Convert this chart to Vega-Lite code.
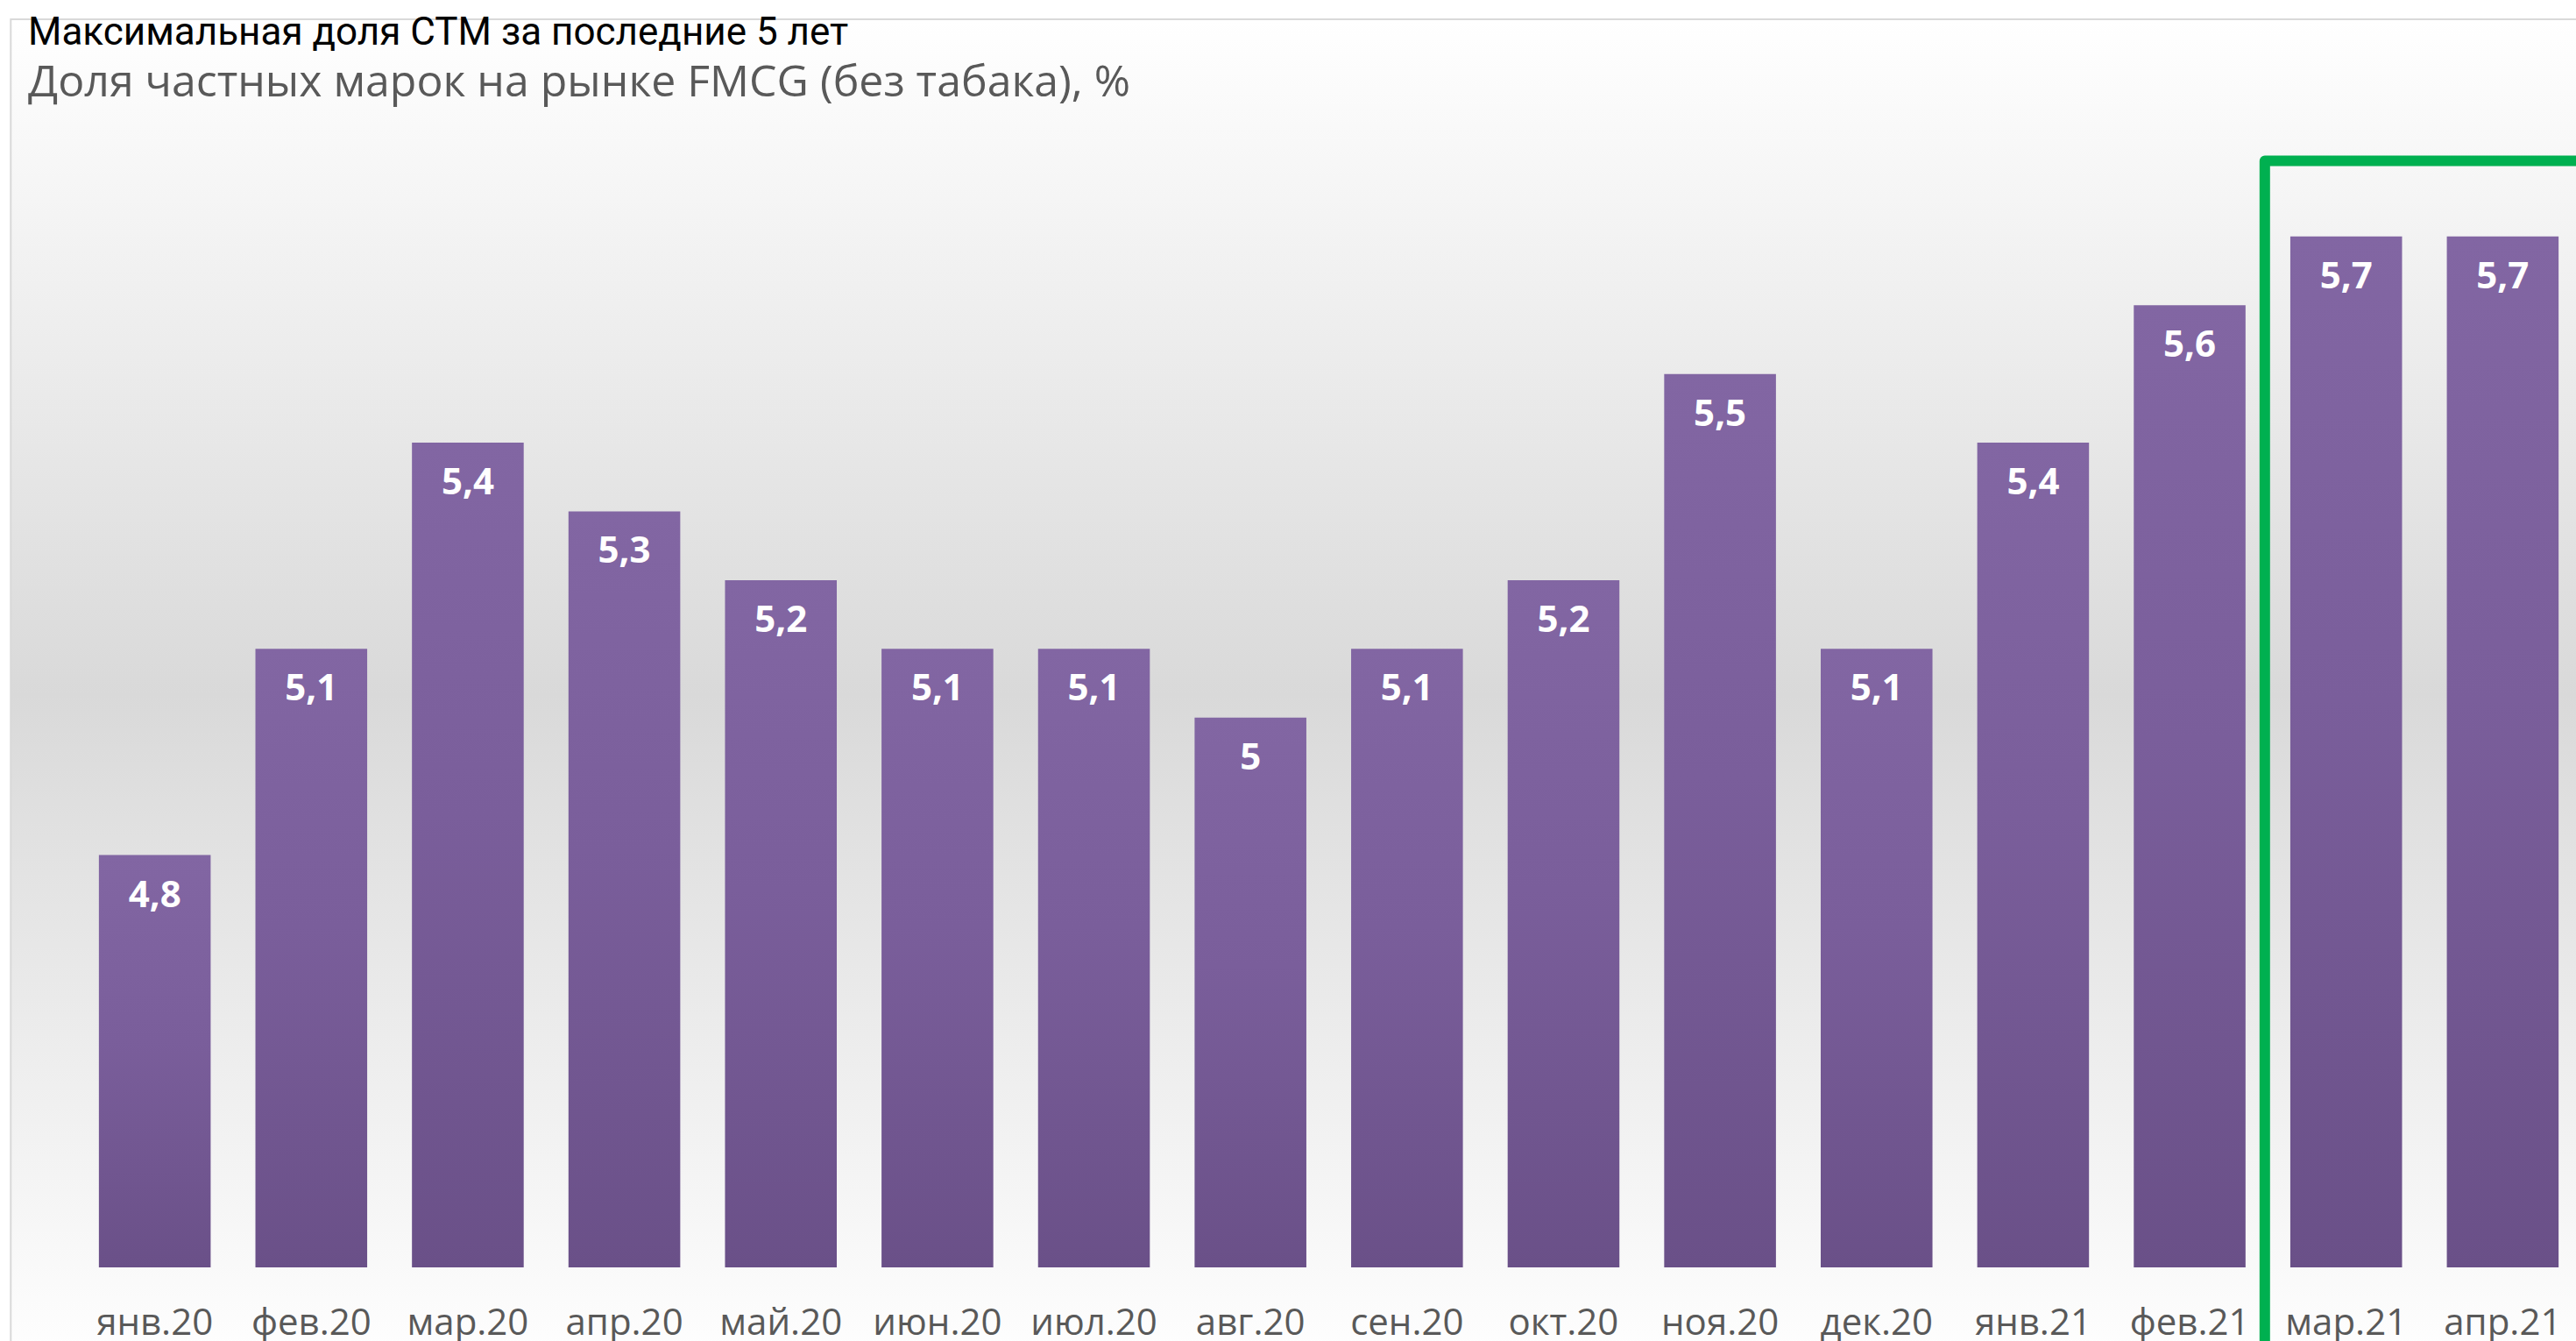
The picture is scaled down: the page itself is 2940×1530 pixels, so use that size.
{
  "$schema": "https://vega.github.io/schema/vega-lite/v6.json",
  "width": 2843,
  "height": 1333,
  "autosize": {"type": "none"},
  "padding": {"left": 95, "top": 113, "right": 2, "bottom": 84},
  "background": "#ffffff",
  "config": {
    "view": {"stroke": null},
    "locale": {"number": {"decimal": ",", "thousands": " ", "grouping": [3], "currency": ["", " ₽"]}},
    "axis": {"zindex": 2}
  },
  "title": {
    "text": "Максимальная доля СТМ за последние 5 лет",
    "subtitle": "Доля частных марок на рынке FMCG (без табака), %",
    "anchor": "start",
    "frame": "group",
    "font": "Roboto",
    "fontSize": 44,
    "fontWeight": "normal",
    "color": "#000000",
    "subtitleFont": "Open Sans",
    "subtitleFontSize": 50,
    "subtitleColor": "#595959",
    "subtitlePadding": 10,
    "offset": 2,
    "dx": -63,
    "dy": 101,
    "zindex": 2
  },
  "datasets": {
    "months": [
      {"month": "янв.20", "value": 4.8},
      {"month": "фев.20", "value": 5.1},
      {"month": "мар.20", "value": 5.4},
      {"month": "апр.20", "value": 5.3},
      {"month": "май.20", "value": 5.2},
      {"month": "июн.20", "value": 5.1},
      {"month": "июл.20", "value": 5.1},
      {"month": "авг.20", "value": 5.0},
      {"month": "сен.20", "value": 5.1},
      {"month": "окт.20", "value": 5.2},
      {"month": "ноя.20", "value": 5.5},
      {"month": "дек.20", "value": 5.1},
      {"month": "янв.21", "value": 5.4},
      {"month": "фев.21", "value": 5.6},
      {"month": "мар.21", "value": 5.7},
      {"month": "апр.21", "value": 5.7}
    ],
    "frame": [{"x": -0.92, "x2": 17, "y": 6.016, "y2": 4.05}],
    "highlight": [{"x": 13.48, "x2": 17, "y": 5.81, "y2": 3.9}]
  },
  "resolve": {"scale": {"x": "independent"}},
  "layer": [
    {
      "data": {"name": "frame"},
      "mark": {
        "type": "rect",
        "fill": {"gradient": "linear", "x1": 0, "y1": 0, "x2": 0, "y2": 1,
          "stops": [{"offset": 0, "color": "#ffffff"}, {"offset": 0.5, "color": "#d9d9d9"}, {"offset": 1, "color": "#ffffff"}]},
        "stroke": "#d9d9d9",
        "strokeWidth": 2
      },
      "encoding": {
        "x": {"field": "x", "type": "quantitative", "scale": {"domain": [-0.457, 15.457], "nice": false, "zero": false}, "axis": null},
        "x2": {"field": "x2"},
        "y": {"field": "y", "type": "quantitative", "scale": {"domain": [4.2, 5.9], "nice": false, "zero": false}, "axis": null},
        "y2": {"field": "y2"}
      }
    },
    {
      "data": {"name": "months"},
      "encoding": {
        "x": {
          "field": "month", "type": "nominal", "sort": null,
          "scale": {"paddingInner": 0.286, "paddingOuter": 0.1},
          "axis": {
            "title": null, "domain": false, "ticks": false, "tickSize": 0,
            "labelAngle": 0, "labelFont": "Open Sans", "labelFontSize": 42,
            "labelColor": "#595959", "labelBaseline": "top", "labelPadding": 43,
            "grid": false, "zindex": 2
          }
        },
        "y": {"field": "value", "type": "quantitative", "scale": {"domain": [4.2, 5.9], "nice": false, "zero": false}, "axis": null}
      },
      "layer": [
        {
          "mark": {
            "type": "bar",
            "fill": {"gradient": "linear", "x1": 0, "y1": 0, "x2": 0, "y2": 1,
              "stops": [{"offset": 0, "color": "#8266a3"}, {"offset": 0.45, "color": "#7a5e9b"}, {"offset": 1, "color": "#6a5088"}]}
          },
          "encoding": {"y2": {"datum": 4.2}}
        },
        {
          "mark": {"type": "text", "font": "Open Sans", "fontWeight": "bold", "fontSize": 42, "color": "#ffffff", "baseline": "alphabetic", "dy": 59},
          "encoding": {"text": {"field": "value", "type": "quantitative", "format": "~g"}}
        }
      ]
    },
    {
      "data": {"name": "highlight"},
      "mark": {"type": "rect", "filled": false, "stroke": "#00b050", "strokeWidth": 12, "strokeJoin": "round"},
      "encoding": {
        "x": {"field": "x", "type": "quantitative", "scale": {"domain": [-0.457, 15.457], "nice": false, "zero": false}, "axis": null},
        "x2": {"field": "x2"},
        "y": {"field": "y", "type": "quantitative", "scale": {"domain": [4.2, 5.9], "nice": false, "zero": false}, "axis": null},
        "y2": {"field": "y2"}
      }
    }
  ]
}
